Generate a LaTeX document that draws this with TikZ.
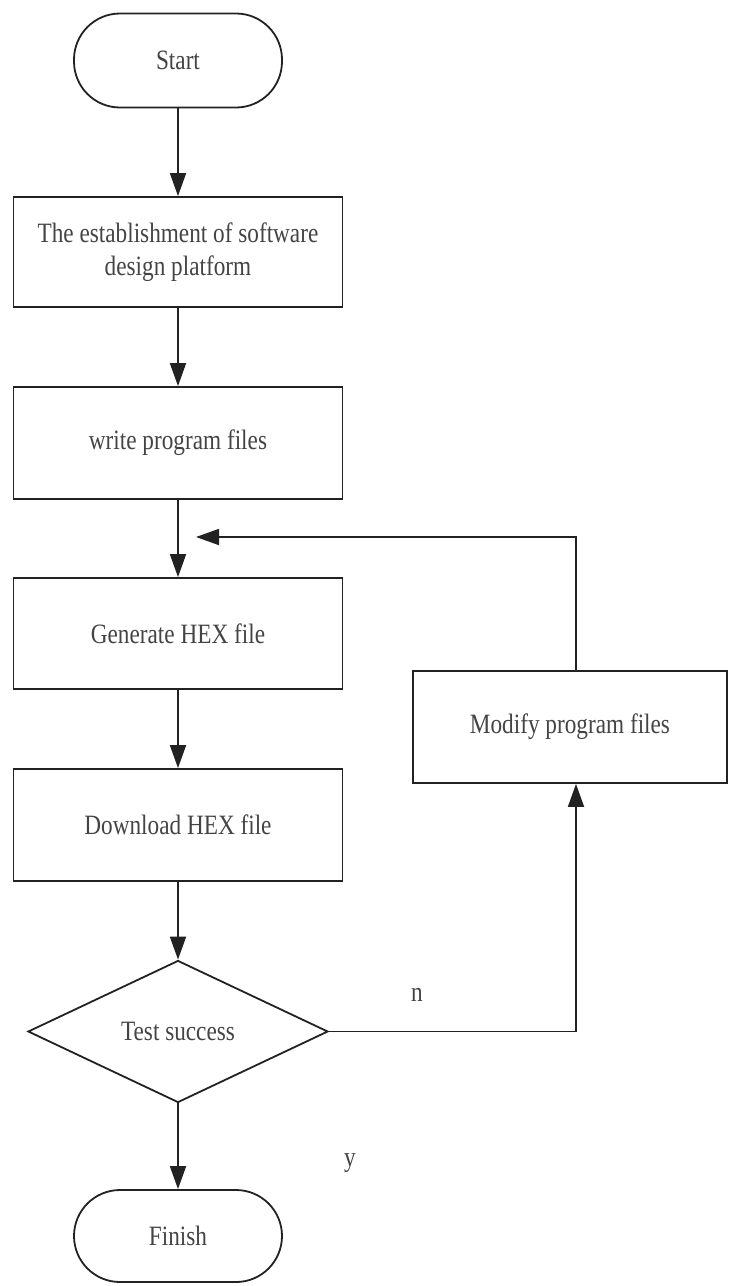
\documentclass[tikz,border=0pt]{standalone}
\usepackage{fontspec}
\setmainfont{Liberation Serif}[FakeStretch=0.83]
\usetikzlibrary{arrows.meta,shapes.geometric,calc}
\definecolor{linec}{HTML}{222222}
\definecolor{textc}{HTML}{444444}
\tikzset{
  base/.style={draw=linec, line width=1.8pt, text=textc, font=\fontsize{28}{33.6}\selectfont, align=center, inner sep=0pt},
  procbox/.style={base, rectangle, minimum width=329pt, minimum height=111pt},
  termbox/.style={base, rectangle, rounded corners=46pt, minimum width=208pt, minimum height=94pt},
  decbox/.style={base, diamond, minimum width=300pt, minimum height=142pt},
  conn/.style={draw=linec, line width=1.8pt, -{Triangle[length=23pt,width=16pt]}},
  lbl/.style={text=textc, font=\fontsize{28}{33.6}\selectfont, inner sep=0pt, anchor=base}
}
\begin{document}
\begin{tikzpicture}[x=1pt,y=-1pt]
\useasboundingbox (0,0) rectangle (729,1286);
\node[termbox] (start) at (178,60.5) {Start};
\node[procbox, minimum height=110pt] (b1) at (178,252) {The establishment of software\\design platform};
\node[procbox, minimum height=112pt] (b2) at (178,443) {write program files};
\node[procbox] (b3) at (178,633.5) {Generate HEX file};
\node[procbox, minimum height=112pt] (b4) at (178,825) {Download HEX file};
\node[decbox] (dia) at (178,1031.5) {Test success};
\node[termbox, minimum height=92pt] (finish) at (178,1236) {Finish};
\node[procbox, minimum width=314pt, minimum height=112pt] (mod) at (570,727) {Modify program files};
\coordinate (mx) at (576,0);
\coordinate (fb) at (196,537);
\draw[conn] (start) -- (b1);
\draw[conn] (b1) -- (b2);
\draw[conn] (b2) -- (b3);
\draw[conn] (b3) -- (b4);
\draw[conn] (b4) -- (dia);
\draw[conn] (dia) -- (finish);
\draw[conn] (dia.east) -| (mod.south -| mx);
\draw[conn] (mod.north -| mx) |- (fb);
\node[lbl] (n) at (417,1001) {n};
\node[lbl] (y) at (350,1166) {y};
\end{tikzpicture}
\end{document}
